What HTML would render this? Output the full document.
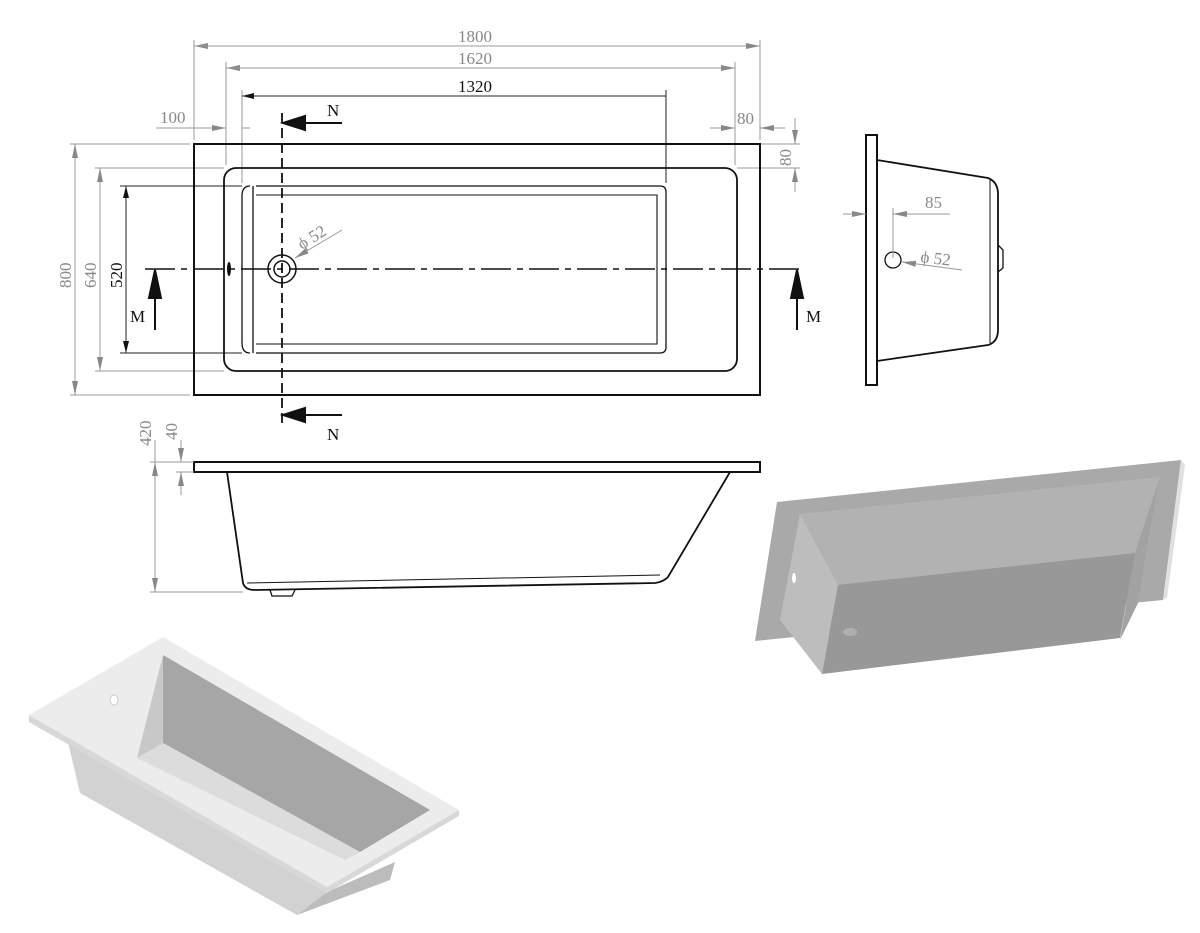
<!DOCTYPE html>
<html><head><meta charset="utf-8"><style>
html,body{margin:0;padding:0;background:#fff}
svg{display:block}
text{font-family:"Liberation Serif",serif;font-size:17px}
.g{fill:#888}.k{fill:#111}
</style></head><body>
<svg width="1200" height="933" viewBox="0 0 1200 933" xmlns="http://www.w3.org/2000/svg">
<defs>
<marker id="ag" markerWidth="14" markerHeight="8" refX="14" refY="4" orient="auto" markerUnits="userSpaceOnUse"><path d="M0,1 L14,4 L0,7 Z" fill="#888"/></marker>
<marker id="ak" markerWidth="12" markerHeight="8" refX="12" refY="4" orient="auto" markerUnits="userSpaceOnUse"><path d="M0,1 L12,4 L0,7 Z" fill="#111"/></marker>
</defs>

<!-- dimension lines top -->
<g stroke="#999" stroke-width="1" fill="none">
<line x1="194" y1="40" x2="194" y2="140"/><line x1="760" y1="40" x2="760" y2="140"/>
<line x1="226" y1="62" x2="226" y2="165"/><line x1="735" y1="62" x2="735" y2="165"/>
<line x1="242" y1="90" x2="242" y2="183"/><line x1="666" y1="90" x2="666" y2="183"/>
<line x1="760" y1="46" x2="194" y2="46" marker-end="url(#ag)"/><line x1="194" y1="46" x2="760" y2="46" marker-end="url(#ag)"/>
<line x1="735" y1="68" x2="226" y2="68" marker-end="url(#ag)"/><line x1="226" y1="68" x2="735" y2="68" marker-end="url(#ag)"/>
<line x1="156" y1="128" x2="226" y2="128" marker-end="url(#ag)"/><line x1="250" y1="128" x2="242" y2="128"/>
<line x1="710" y1="128" x2="735" y2="128" marker-end="url(#ag)"/><line x1="785" y1="128" x2="760" y2="128" marker-end="url(#ag)"/>
<line x1="760" y1="144" x2="800" y2="144"/><line x1="737" y1="168" x2="800" y2="168"/>
<line x1="795" y1="118" x2="795" y2="144" marker-end="url(#ag)"/><line x1="795" y1="192" x2="795" y2="168" marker-end="url(#ag)"/>
<line x1="70" y1="144" x2="190" y2="144"/><line x1="70" y1="395" x2="190" y2="395"/>
<line x1="95" y1="168" x2="224" y2="168"/><line x1="95" y1="371" x2="224" y2="371"/>
<line x1="75" y1="270" x2="75" y2="144" marker-end="url(#ag)"/><line x1="75" y1="270" x2="75" y2="395" marker-end="url(#ag)"/>
<line x1="100" y1="270" x2="100" y2="168" marker-end="url(#ag)"/><line x1="100" y1="270" x2="100" y2="371" marker-end="url(#ag)"/>
<line x1="342" y1="230" x2="295" y2="258" marker-end="url(#ag)"/>
</g>
<g stroke="#222" stroke-width="1" fill="none">
<line x1="666" y1="96" x2="242" y2="96" marker-end="url(#ak)"/><line x1="242" y1="96" x2="666" y2="96"/>
<line x1="666" y1="90" x2="666" y2="183"/>
<line x1="120" y1="186" x2="242" y2="186"/><line x1="120" y1="353" x2="242" y2="353"/>
<line x1="126" y1="270" x2="126" y2="186" marker-end="url(#ak)"/><line x1="126" y1="270" x2="126" y2="353" marker-end="url(#ak)"/>
</g>
<text x="458" y="42" class="g">1800</text>
<text x="458" y="64" class="g">1620</text>
<text x="458" y="92" class="k">1320</text>
<text x="160" y="123" class="g">100</text>
<text x="737" y="124" class="g">80</text>
<text transform="translate(791,166) rotate(-90)" class="g">80</text>
<text transform="translate(71,288) rotate(-90)" class="g">800</text>
<text transform="translate(96,288) rotate(-90)" class="g">640</text>
<text transform="translate(122,288) rotate(-90)" class="k">520</text>
<text transform="translate(302,250) rotate(-32)" class="g">ϕ 52</text>

<!-- top view -->
<rect x="194" y="144" width="566" height="251" fill="none" stroke="#111" stroke-width="2"/>
<rect x="224" y="168" width="513" height="203" rx="12" fill="none" stroke="#111" stroke-width="1.8"/>
<path d="M256,186 H660 Q666,186 666,192 V347 Q666,353 660,353 H256" fill="none" stroke="#111" stroke-width="1.3"/>
<path d="M250,186 Q242,186 242,196 V343 Q242,353 250,353 M253,186 V353" fill="none" stroke="#111" stroke-width="1.3"/>
<path d="M256,195 H657 V344 H256" fill="none" stroke="#111" stroke-width="1.1"/>
<ellipse cx="229" cy="269" rx="2" ry="7" fill="#111"/>
<circle cx="282" cy="269" r="14" fill="none" stroke="#111" stroke-width="1.5"/>
<circle cx="282" cy="269" r="8" fill="none" stroke="#111" stroke-width="1.5"/>
<line x1="145" y1="269" x2="805" y2="269" stroke="#111" stroke-width="1.4" stroke-dasharray="30,6,6,6"/>
<line x1="282" y1="113" x2="282" y2="425" stroke="#111" stroke-width="1.8" stroke-dasharray="10,5"/>
<g stroke="#111" stroke-width="2" fill="#111">
<line x1="342" y1="123" x2="295" y2="123"/><path d="M283,123 L305,116 L305,130 Z"/>
<line x1="342" y1="415" x2="295" y2="415"/><path d="M283,415 L305,408 L305,422 Z"/>
<line x1="155" y1="330" x2="155" y2="285"/><path d="M155,270 L149,298 L161,298 Z"/>
<line x1="797" y1="330" x2="797" y2="285"/><path d="M797,270 L791,298 L803,298 Z"/>
</g>
<text x="327" y="116" class="k">N</text>
<text x="327" y="440" class="k">N</text>
<text x="130" y="322" class="k">M</text>
<text x="806" y="322" class="k">M</text>

<!-- side view -->
<rect x="866" y="135" width="11" height="250" fill="none" stroke="#111" stroke-width="2"/>
<path d="M877,160 L988,178 Q998,182 998,194 L998,330 Q998,342 988,345 L877,361" fill="none" stroke="#111" stroke-width="1.8"/>
<line x1="990" y1="180" x2="990" y2="343" stroke="#111" stroke-width="1"/>
<path d="M998,245 L1003,250 L1003,268 L998,272" fill="none" stroke="#111" stroke-width="1.3"/>
<circle cx="893" cy="260" r="8" fill="none" stroke="#111" stroke-width="1.3"/>
<g stroke="#999" stroke-width="1" fill="none">
<line x1="843" y1="214" x2="866" y2="214" marker-end="url(#ag)"/><line x1="950" y1="214" x2="893" y2="214" marker-end="url(#ag)"/>
<line x1="893" y1="208" x2="893" y2="258"/>
<line x1="962" y1="270" x2="902" y2="262" marker-end="url(#ag)"/>
</g>
<text x="925" y="208" class="g">85</text>
<text transform="translate(920,262) rotate(7)" class="g">ϕ 52</text>

<!-- front view -->
<rect x="194" y="462" width="566" height="10" fill="none" stroke="#111" stroke-width="2"/>
<path d="M227,472 L243,583 Q245,590 255,590 L655,583 Q663,582 668,577 L730,472" fill="none" stroke="#111" stroke-width="1.8"/>
<path d="M247,583 L660,575" fill="none" stroke="#111" stroke-width="1"/>
<path d="M270,590 L272,596 L292,596 L295,590" fill="none" stroke="#111" stroke-width="1.3"/>
<g stroke="#999" stroke-width="1" fill="none">
<line x1="150" y1="462" x2="194" y2="462"/><line x1="150" y1="592" x2="243" y2="592"/>
<line x1="176" y1="472" x2="194" y2="472"/>
<line x1="155" y1="440" x2="155" y2="462"/><line x1="155" y1="527" x2="155" y2="462" marker-end="url(#ag)"/><line x1="155" y1="527" x2="155" y2="592" marker-end="url(#ag)"/>
<line x1="181" y1="440" x2="181" y2="462" marker-end="url(#ag)"/><line x1="181" y1="495" x2="181" y2="472" marker-end="url(#ag)"/>
</g>
<text transform="translate(151,446) rotate(-90)" class="g">420</text>
<text transform="translate(177,440) rotate(-90)" class="g">40</text>

<!-- 3D render top right -->
<polygon points="777,502 1181,460 1163,600 755,641" fill="#a9a9a9"/>
<polygon points="1181,460 1185,465 1167,598 1163,600" fill="#e0e0e0"/>
<polygon points="800,514 1160,477 1135,553 838,585" fill="#b2b2b2"/>
<polygon points="1160,477 1135,553 1120,640 1138,603 1148,540" fill="#a2a2a2"/>
<polygon points="800,514 838,585 822,674 780,620" fill="#bdbdbd"/>
<polygon points="838,585 1135,553 1120,638 822,674" fill="#989898"/>
<ellipse cx="794" cy="578" rx="2" ry="5" fill="#fff"/>
<ellipse cx="850" cy="632" rx="7" ry="4" fill="#b0b0b0"/>

<!-- 3D render bottom left -->
<polygon points="68,742 80,793 297,915 327,892" fill="#d2d2d2"/>
<polygon points="297,915 327,892 395,862 390,880" fill="#bcbcbc"/>
<polygon points="29,715 163,637 459,810 327,887" fill="#ececec"/>
<polygon points="29,715 327,887 327,893 29,722" fill="#d8d8d8"/>
<polygon points="327,887 459,810 459,816 327,893" fill="#d8d8d8"/>
<polygon points="163,655 430,810 360,852 163,743" fill="#a6a6a6"/>
<polygon points="137,758 163,743 360,852 345,860" fill="#dcdcdc"/>
<polygon points="137,758 163,655 163,743" fill="#c8c8c8"/>
<ellipse cx="114" cy="700" rx="4" ry="5" fill="#fff" stroke="#ccc"/>
</svg>
</body></html>
